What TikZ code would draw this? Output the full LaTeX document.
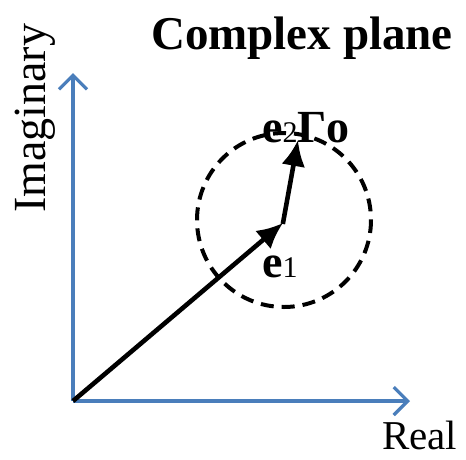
\documentclass[tikz,border=0pt]{standalone}
\usepackage{fontspec}
\setmainfont{Liberation Serif}
\usetikzlibrary{arrows.meta}
\definecolor{axisblue}{RGB}{74,126,187}
\tikzset{
  axis/.style={draw=axisblue, line width=3.2pt, -{Straight Barb[length=14pt,width=28pt,line width=3.2pt]}},
  vec/.style={draw=black, line width=4.6pt, -{Latex[length=26pt,width=24pt]}},
  lbl/.style={inner sep=0pt, anchor=base west},
}
\begin{document}
\begin{tikzpicture}[x=1pt,y=-1pt]
\useasboundingbox (0,0) rectangle (466,459);
\coordinate (O) at (73,401);
\coordinate (Ytip) at (73,73);
\coordinate (Xtip) at (410,401);
\coordinate (E1) at (283,223);
\coordinate (E2) at (298,140);
\coordinate (C) at (284,220);
\draw[axis] (O) -- (Ytip);
\draw[axis] (O) -- (Xtip);
\draw[black, line width=4pt, dash pattern=on 13pt off 8pt] (C) circle[radius=87];
\draw[vec] (O) -- (E1);
\draw[vec, shorten <=-1pt] (E1) -- (E2);
\node[lbl, font=\fontsize{47}{50}\selectfont\bfseries] (title) at (151,49) {Complex plane};
\node[lbl, rotate=90, font=\fontsize{46}{50}\selectfont] (imag) at (45,213) {Imaginary};
\node[lbl, font=\fontsize{41}{46}\selectfont] (real) at (382,449) {Real};
\node[lbl, font=\fontsize{46}{50}\selectfont] (e2g) at (262,142) {\textbf{e}{\fontsize{30}{32}\selectfont 2}\textbf{Γo}};
\node[lbl, font=\fontsize{46}{50}\selectfont] (e1) at (262,277) {\textbf{e}{\fontsize{30}{32}\selectfont 1}};
\end{tikzpicture}
\end{document}
